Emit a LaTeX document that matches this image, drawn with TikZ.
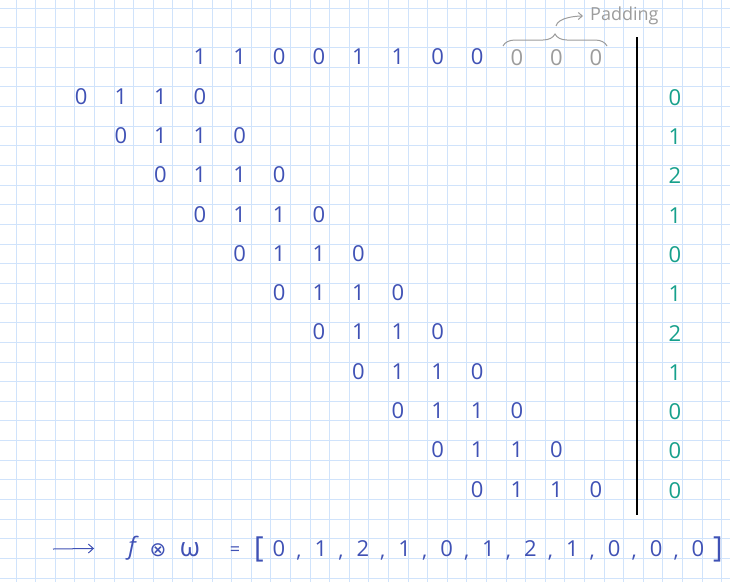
\documentclass[tikz,border=0pt]{standalone}
\usepackage{fontspec}
\setmainfont{Open Sans}
\newfontfamily\symbolfont{DejaVu Sans}
\usetikzlibrary{arrows.meta, decorations.pathreplacing}
\definecolor{GridBlue}{HTML}{D0E3FB}
\definecolor{PenBlue}{HTML}{3F51B5}
\definecolor{PenTeal}{HTML}{16A08C}
\definecolor{PenGray}{HTML}{9C9C9C}
\tikzset{
  gridline/.style={draw=GridBlue, line width=1pt},
  digit/.style={text=PenBlue, inner sep=0pt, font=\fontsize{22}{22}\selectfont},
  paddigit/.style={digit, text=PenGray},
  outdigit/.style={digit, text=PenTeal},
  commamark/.style={text=PenBlue, inner sep=0pt, anchor=base, font=\fontsize{21}{21}\selectfont},
  bracket/.style={text=PenBlue, inner sep=0pt, font=\fontsize{29}{29}\selectfont},
  mathsym/.style={text=PenBlue, inner sep=0pt},
  sepline/.style={draw=black, line width=1.5pt},
  padbrace/.style={draw=PenGray, line width=1pt,
    decorate, decoration={brace, amplitude=12pt}},
  padarrow/.style={-{Straight Barb[length=4pt, width=7pt]}, draw=PenGray, line width=1pt},
  resarrow/.style={-{Straight Barb[length=5pt, width=9pt]}, draw=PenBlue, line width=1pt},
}

\begin{document}
\begin{tikzpicture}[x=1pt, y=-1pt]
  \useasboundingbox (0,0) rectangle (730,582);
  \fill[white] (0,0) rectangle (730,582);
  \foreach \i in {0,...,36}
    \draw[gridline] ({16+19.6*\i},0) -- ({16+19.6*\i},582);
  \foreach \j in {0,...,29}
    \draw[gridline] (0,{8.3+19.65*\j}) -- (730,{8.3+19.65*\j});

  % signal with zero padding
  \foreach \v [count=\c from 0] in {1,1,0,0,1,1,0,0}
    \node[digit] (s\c) at ({200+39.6*\c},57) {\v};
  \foreach \c in {8,9,10}
    \node[paddigit] (s\c) at ({200+39.6*\c},58) {0};

  % kernel slid along the signal
  \foreach \r in {1,...,11}
    \foreach \v [count=\k from 0] in {0,1,1,0}
      \node[digit] (k\r-\k) at ({200+39.6*(\r-4+\k)},{57+39.3*\r}) {\v};

  % results
  \foreach \v [count=\r] in {0,1,2,1,0,1,2,1,0,0,0}
    \node[outdigit] (o\r) at (675,{58+39.3*\r}) {\v};

  \coordinate (septop) at (637,37);
  \coordinate (sepbot) at (637,515);
  \draw[sepline] (septop) -- (sepbot);

  \coordinate (padL) at (503,46);
  \coordinate (padR) at (607,46);
  \draw[padbrace] (padL) -- (padR);
  \node[text=PenGray, inner sep=0pt, anchor=west,
    font=\fontsize{18}{18}\selectfont] (padtxt) at (590,16) {Padding};
  \coordinate (hook) at (556,26);
  \draw[padarrow, shorten >=7pt] (hook) .. controls +(2,-9) and +(-12,0) .. (padtxt.west);

  % f conv w
  \coordinate (resstart) at (53,549);
  \node[mathsym, font=\fontsize{24}{24}\selectfont\itshape] (fsym) at (132,548) {f};
  \node[mathsym, font=\fontsize{20}{20}\selectfont\symbolfont] (conv) at (158,550) {⊗};
  \node[mathsym, font=\fontsize{26}{26}\selectfont] (wsym) at (190,550) {ω};
  \node[mathsym, font=\fontsize{18}{18}\selectfont] (eq) at (235,551) {=};
  \draw[resarrow, shorten >=34pt] (resstart) -- (fsym.west);
  \node[bracket] (lbr) at (259,549) {[};
  \foreach \v [count=\i from 0] in {0,1,2,1,0,1,2,1,0,0,0}
    \node[digit] (r\i) at ({279+41.9*\i},549) {\v};
  \foreach \i in {0,...,9}
    \node[commamark] (c\i) at ({299+41.9*\i},557) {,};
  \node[bracket] (rbr) at (718,549) {]};
\end{tikzpicture}
\end{document}
